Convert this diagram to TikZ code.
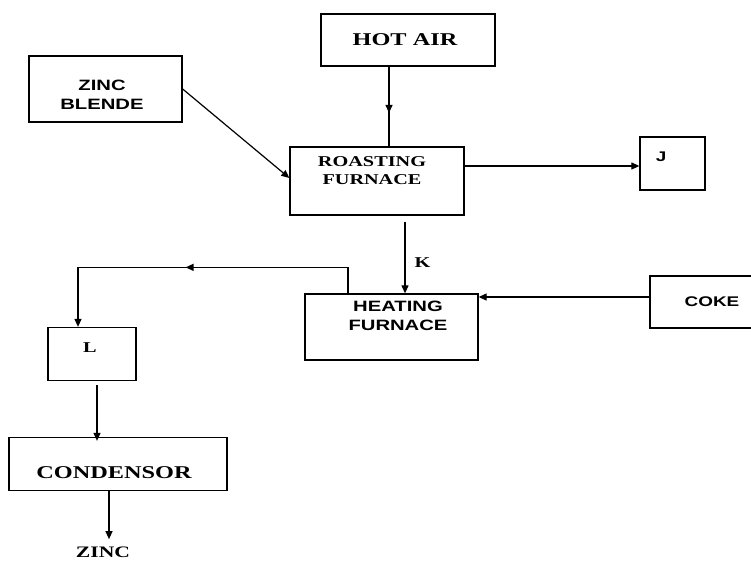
\documentclass[tikz,border=0pt]{standalone}
\usepackage{fontspec}
\setmainfont{Liberation Serif}[FakeStretch=1.35]
\newfontfamily\blksans{Liberation Sans}[FakeStretch=1.35]
\usetikzlibrary{arrows.meta,decorations.markings}

\begin{document}
\begin{tikzpicture}[x=1pt,y=-1pt,
    >={Triangle[length=8pt,width=7pt]},
    blk/.style 2 args={draw,line width=1.3pt,minimum width=#1,minimum height=#2,inner sep=0pt},
    sertxt/.style={font=\bfseries\fontsize{#1}{18}\selectfont,align=center,inner sep=0pt},
    sanstxt/.style={font=\blksans\bfseries\fontsize{#1}{19}\selectfont,align=center,inner sep=0pt},
    flow/.style={line width=1.2pt},
    midarr/.style={postaction={decorate},decoration={markings,mark=at position #1 with {\arrow{>}}}}]
		\fill[white] (0,0) rectangle (751,562);
		\useasboundingbox (0,0) rectangle (751,562);
		% boxes
		\node[blk={174pt}{52pt}] (hotair) at (408,40) {};
		\node[blk={153pt}{66pt}] (blende) at (105.5,89) {};
		\node[blk={174pt}{68pt}] (roast) at (377,181) {};
		\node[blk={65pt}{53pt}] (jbox) at (672.5,163.5) {};
		\node[blk={173pt}{66pt}] (heat) at (391.5,327) {};
		\node[blk={106pt}{52pt}] (coke) at (703,302) {};
		\node[blk={88pt}{53pt}] (lbox) at (92,354) {};
		\node[blk={218pt}{53pt}] (cond) at (118,464) {};
		% texts
		\node[sertxt=18] (hotairtxt) at (405,40) {HOT AIR};
		\node[sanstxt=15] (blendetxt) at (102,95) {ZINC\\BLENDE};
		\node[sertxt=15] (roasttxt) at (372,171) {ROASTING\\FURNACE};
		\node[sanstxt=14] (jtxt) at (661,157) {J};
		\node[sanstxt=15] (heattxt) at (398,316) {HEATING\\FURNACE};
		\node[sanstxt=14] (coketxt) at (712,302) {COKE};
		\node[sertxt=15] (ltxt) at (90,348) {L};
		\node[sertxt=18] (condtxt) at (114,473) {CONDENSOR};
		\node[sertxt=16] (zinc) at (103,552) {ZINC};
		% connectors
		\draw[flow,midarr=0.58] ([xshift=-19pt]hotair.south) -- ([xshift=12pt]roast.north);
		\draw[flow,->] (blende.east) -- ([yshift=3pt]roast.west);
		\draw[flow,->] ([yshift=15pt]roast.east) -- ([yshift=15pt]roast.east -| jbox.west);
		\draw[flow,->] ([xshift=28pt,yshift=-6pt]roast.south) -- node[sertxt=15,right=9pt,pos=0.57] (klbl) {K} ([xshift=28pt]roast.south |- heat.north);
		\draw[flow,->] ([yshift=5pt]coke.west) -- ([yshift=5pt]coke.west -| heat.east);
		\draw[flow,->,midarr=0.53] ([xshift=-43.5pt]heat.north) -- ++(0,-26) -| ([xshift=-14pt]lbox.north);
		\draw[flow,->] ([xshift=5pt,yshift=-4pt]lbox.south) -- ([xshift=5pt,yshift=-4pt]lbox.south |- cond.north);
		\draw[flow,->] ([xshift=-9pt]cond.south) -- ([xshift=-9pt,yshift=-48pt]cond.south);
	\end{tikzpicture}
\end{document}
